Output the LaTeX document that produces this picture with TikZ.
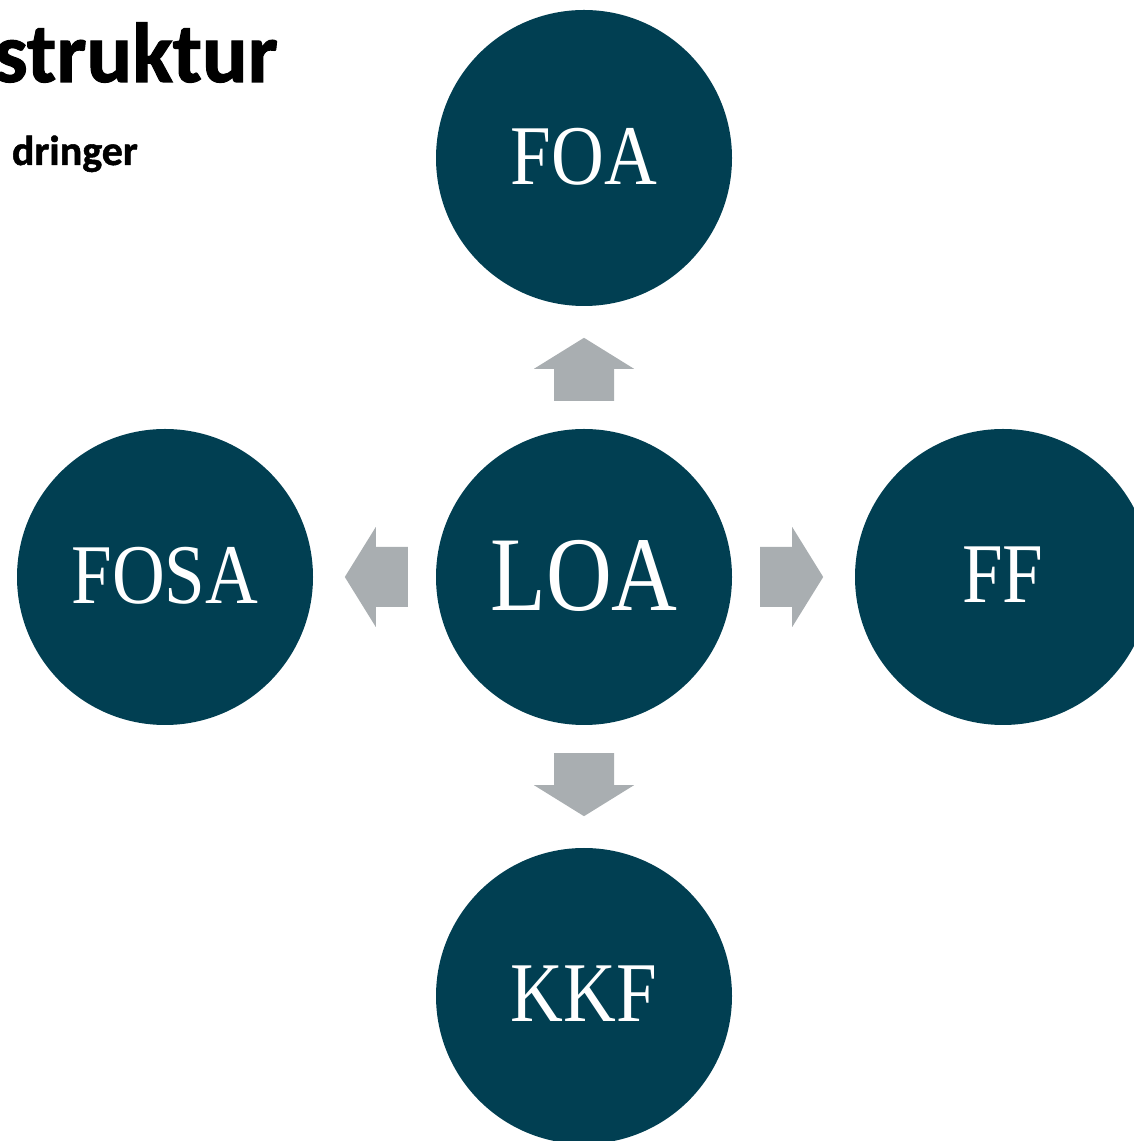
\documentclass[tikz,border=0pt]{standalone}
\usepackage{fontspec}
\setmainfont{Liberation Serif}
\newfontfamily\titlefont{Carlito}[UprightFont=*-Bold, FakeBold=1.2]
\usetikzlibrary{calc}
\definecolor{circblue}{HTML}{013F52}
\definecolor{arrgray}{HTML}{A9AEB1}
\newcommand{\circlabel}[1]{\raisebox{4pt}{\scalebox{0.86}[1]{#1}}}
\tikzset{
  orgcircle/.style={circle, fill=circblue, text=white, minimum size=296pt, inner sep=0pt,
    font=\fontsize{85}{85}\selectfont},
  blockarrow/.pic={\fill[arrgray] (-63,30) -- (-31,30) -- (-31,50) -- (0,0) -- (-31,-50) -- (-31,-30) -- (-63,-30) -- cycle;},
  titletext/.style={anchor=base east, inner sep=0pt, text=black},
}
\begin{document}
\begin{tikzpicture}[x=1pt,y=1pt]
\useasboundingbox (0,0) rectangle (1134,1141);
\node[orgcircle] (LOA) at (584,564) {\fontsize{106}{106}\selectfont\circlabel{LOA}};
\node[orgcircle] (FOA) at (584,983) {\circlabel{FOA}};
\node[orgcircle] (FOSA) at (165,564) {\circlabel{FOSA}};
\node[orgcircle] (FF) at (1003,564) {\circlabel{FF}};
\node[orgcircle] (KKF) at (584,145) {\circlabel{KKF}};
\pic[rotate=90] at ($(LOA.north)+(0,91)$) {blockarrow};
\pic[rotate=180] at ($(LOA.west)+(-91,0)$) {blockarrow};
\pic at ($(LOA.east)+(91,0)$) {blockarrow};
\pic[rotate=-90] at ($(LOA.south)+(0,-91)$) {blockarrow};
\node[titletext, font=\titlefont\fontsize{85}{85}\selectfont] (title) at (278,1059) {struktur};
\node[titletext, font=\titlefont\fontsize{42}{42}\selectfont] (subtitle) at (138,976) {dringer};
\end{tikzpicture}
\end{document}
